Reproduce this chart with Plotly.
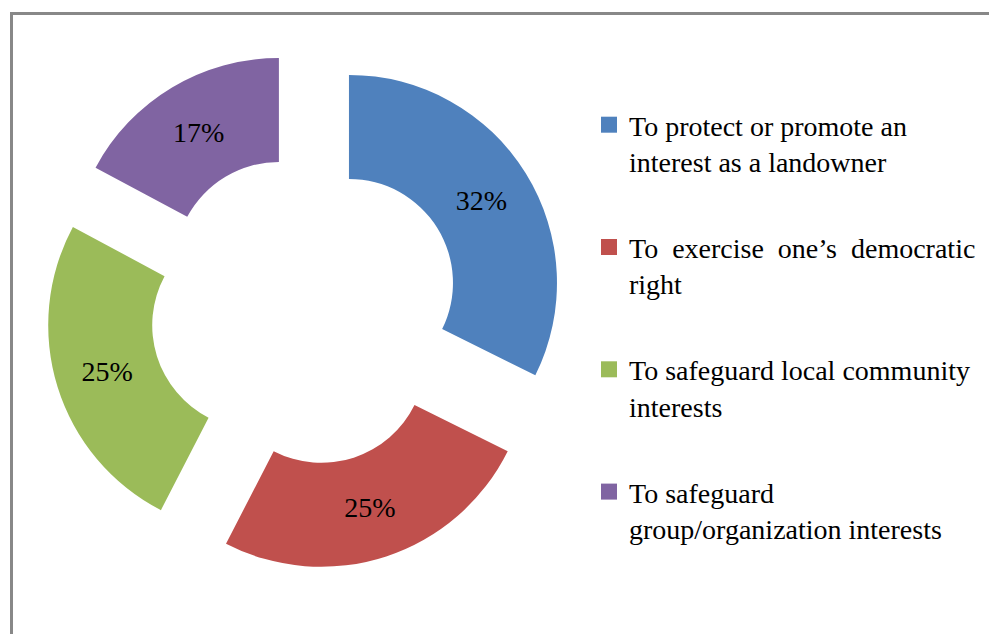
import plotly.graph_objects as go

categories = [
    "To protect or promote an<br>interest as a landowner",
    "To\u00a0 exercise\u00a0 one\u2019s\u00a0 democratic<br>right",
    "To safeguard local community<br>interests",
    "To safeguard<br>group/organization interests",
]
values = [32, 25, 25, 17]
colors = ["#4F81BD", "#C0504D", "#9BBB59", "#8064A2"]

W, H = 989, 634
FONT = "Liberation Serif, Times New Roman, serif"

fig = go.Figure()

fig.add_trace(go.Pie(
    labels=categories,
    values=values,
    hole=0.5,
    pull=[0.247] * len(values),
    sort=False,
    direction="clockwise",
    rotation=0,
    marker=dict(colors=colors, line=dict(width=0)),
    texttemplate="%{value}%",
    textposition="inside",
    insidetextorientation="horizontal",
    textfont=dict(family=FONT, size=28, color="black"),
    showlegend=False,
    domain=dict(x=[45.9 / W, 564.7 / W], y=[1 - 569.4 / H, 1 - 50.6 / H]),
))

# legend entries (one group per category so that spacing can be controlled)
for i, (lab, col) in enumerate(zip(categories, colors)):
    fig.add_trace(go.Scatter(
        x=[None], y=[None], mode="markers",
        marker=dict(symbol="square", size=16, color=col),
        name=lab, legendgroup=f"g{i}", showlegend=True,
    ))

fig.update_layout(
    width=W, height=H,
    margin=dict(l=0, r=0, t=0, b=0),
    paper_bgcolor="white",
    plot_bgcolor="white",
    xaxis=dict(visible=False),
    yaxis=dict(visible=False),
    font=dict(family=FONT, size=28, color="black"),
    legend=dict(
        x=589 / W, y=1 - 100 / H, xanchor="left", yanchor="top",
        valign="top", tracegroupgap=46.5,
        font=dict(family=FONT, size=28, color="black"),
        bgcolor="rgba(0,0,0,0)",
    ),
    shapes=[dict(
        type="rect", xref="paper", yref="paper",
        x0=11.5 / W, x1=1.02, y0=-0.02, y1=1 - 13.5 / H,
        line=dict(color="#888888", width=3),
        fillcolor="rgba(0,0,0,0)",
    )],
)

fig.write_html("out.html")
